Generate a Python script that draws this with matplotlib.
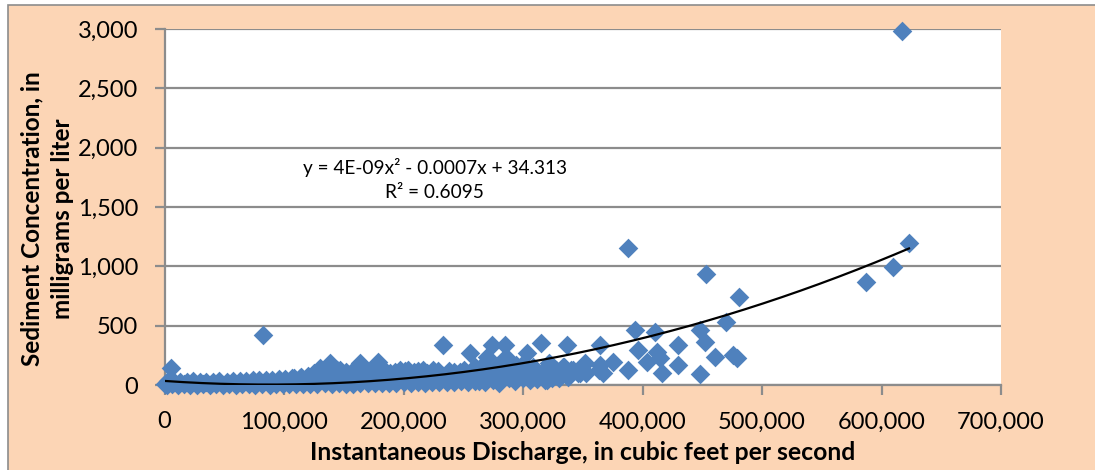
import numpy as np
import matplotlib.pyplot as plt
from matplotlib.patches import Rectangle
from matplotlib.ticker import FuncFormatter, MultipleLocator

# ---- data: discharge in 1000s of cfs, concentration in mg/L ----
# low flows, lower row of the dense band
low_q = [0, 2, 6, 11, 16, 21, 27, 32, 38, 43, 49, 54, 60, 65, 71, 76, 82, 88, 93, 99]
low_c = [8, 3, 5, 2, 6, 4, 3, 7, 2, 5, 4, 6, 3, 5, 8, 4, 6, 3, 7, 5]
# low flows, upper row of the dense band
low2_q = [3, 8, 13, 19, 24, 30, 35, 41, 46, 52, 57, 63, 68, 74, 79, 85, 90, 96]
low2_c = [30, 26, 28, 25, 30, 27, 29, 26, 31, 28, 32, 30, 35, 40, 38, 45, 42, 50]

# medium flows, three rows
mid_q = [104, 110, 116, 122, 128, 134, 140, 146, 152, 158, 164, 170, 176, 182, 188,
         194, 200, 206, 212, 218, 224, 230, 236, 242, 248, 254, 260]
mid_c = [8, 10, 6, 12, 9, 14, 10, 15, 12, 11, 16, 13, 18, 15, 20,
         17, 22, 19, 24, 20, 26, 22, 28, 25, 30, 27, 32]
mid2_q = [101, 107, 113, 119, 125, 131, 137, 143, 149, 155, 161, 167, 173, 179, 185,
          191, 197, 203, 209, 215, 221, 227, 233, 239, 245, 251, 257]
mid2_c = [50, 55, 58, 60, 62, 65, 60, 70, 66, 64, 72, 68, 70, 75, 72,
          70, 78, 74, 76, 80, 75, 78, 80, 76, 82, 85, 80]
top_q = [108, 114, 120, 125, 130, 135, 138.5, 144, 147, 152, 156, 160, 163.6, 168, 172,
         176, 179, 184, 189, 193, 197, 201, 204, 209, 212, 216, 220, 225, 229, 233,
         238, 242, 247, 251, 255.6, 260]
top_c = [62, 68, 75, 100, 141, 130, 183, 128, 126, 110, 101, 140, 183, 128, 101,
         150, 196, 130, 101, 112, 126, 115, 126, 110, 120, 126, 105, 126, 118, 337,
         115, 108, 112, 130, 267, 150]

# higher flows, still crowded
high_q = [263, 268, 275, 280, 288, 293, 300, 306, 312, 318, 324, 330, 338]
high_c = [30, 25, 40, 20, 55, 30, 60, 45, 50, 42, 60, 55, 70]
high2_q = [262, 267, 272, 277, 282, 289, 295, 300, 305, 311, 317, 322, 328, 334, 340, 346]
high2_c = [100, 95, 110, 120, 105, 99, 115, 99, 120, 99, 110, 183, 130, 154, 126, 99]
high3_q = [264, 269.6, 273.8, 278, 282, 285, 286, 290, 294, 298, 303, 308, 315, 320, 336.6]
high3_c = [140, 238, 337, 160, 140, 337, 238, 150, 170, 160, 267, 150, 351, 130, 337]

# scattered points
sparse_q = [5.2, 82.7, 308.6, 319.8, 321, 311.5, 289, 333.7, 342, 353, 347.7, 351.9,
            364.4, 364.4, 364, 367, 375.6, 388, 388, 393.7, 396.5, 403.5, 410.5, 412,
            414.6, 416, 430, 430, 448, 448, 452, 452.9, 460.7, 470, 476, 478.8, 481,
            586.7, 610, 617, 623]
sparse_c = [141, 421, 70, 42, 70, 99, 99, 154, 126, 99, 99, 183,
            337, 169, 126, 99, 196, 126, 1152, 463, 295, 196, 449, 281,
            225, 99, 337, 169, 463, 90, 365, 935, 239, 528, 253, 225, 739,
            865, 997, 2980, 1199]

# trendline as printed on the chart
coef_a, coef_b, coef_c = 4e-09, -0.0007, 34.313
eq_text = 'y = 4E-09x² - 0.0007x + 34.313'
r2_text = 'R² = 0.6095'

q = np.array(low_q + low2_q + mid_q + mid2_q + top_q + high_q + high2_q + high3_q + sparse_q) * 1000
c = np.array(low_c + low2_c + mid_c + mid2_c + top_c + high_c + high2_c + high3_c + sparse_c)

plt.rcParams['font.family'] = ['Lato', 'DejaVu Sans']

fig = plt.figure(figsize=(10.95, 4.70), dpi=100)
fig.patch.set_facecolor('white')
# peach chart area with grey border
fig.patches.append(Rectangle((8 / 1095, -0.02), 1.1, (470 - 5) / 470 + 0.02,
                             transform=fig.transFigure, facecolor='#FCD5B5',
                             edgecolor='#8C8C8C', linewidth=1.2, zorder=-10))

ax = fig.add_axes([164.5 / 1095, 1 - 385 / 470, (1001 - 164.5) / 1095, (385 - 29) / 470])
ax.set_facecolor('white')

ax.scatter(q, c, marker='D', s=100, color='#4F81BD', linewidths=0, zorder=3, clip_on=False)

xfit = np.linspace(0, q.max(), 200)
ax.plot(xfit, coef_a * xfit ** 2 + coef_b * xfit + coef_c, color='black', linewidth=1.6, zorder=4)

ax.set_xlim(0, 700000)
ax.set_ylim(0, 3000)
ax.xaxis.set_major_locator(MultipleLocator(100000))
ax.yaxis.set_major_locator(MultipleLocator(500))
fmt = FuncFormatter(lambda v, p: f"{v:,.0f}")
ax.xaxis.set_major_formatter(fmt)
ax.yaxis.set_major_formatter(fmt)

ax.grid(axis='y', color='#8C8C8C', linewidth=1.6, zorder=1)
ax.set_axisbelow(True)
for side in ['top', 'right']:
    ax.spines[side].set_visible(False)
for side in ['left', 'bottom']:
    ax.spines[side].set_color('#8C8C8C')
    ax.spines[side].set_linewidth(1.6)
ax.tick_params(axis='both', colors='#8C8C8C', length=7, width=1.6, labelcolor='black', labelsize=17)
ax.tick_params(axis='y', pad=12)
ax.tick_params(axis='x', pad=12)

ax.text(226000, 1837, eq_text, ha='center', va='center', fontsize=13.7)
ax.text(226000, 1618, r2_text, ha='center', va='center', fontsize=13.7)

fig.text(583 / 1095, 1 - 452 / 470, 'Instantaneous Discharge, in cubic feet per second',
         ha='center', va='center', fontsize=17.8, fontweight='bold')
fig.text(47 / 1095, 1 - 219 / 470, 'Sediment Concentration, in\nmilligrams per liter',
         ha='center', va='center', rotation=90, fontsize=17.5, fontweight='bold',
         multialignment='center', linespacing=1.4)

fig.savefig('out.png', dpi=100)
